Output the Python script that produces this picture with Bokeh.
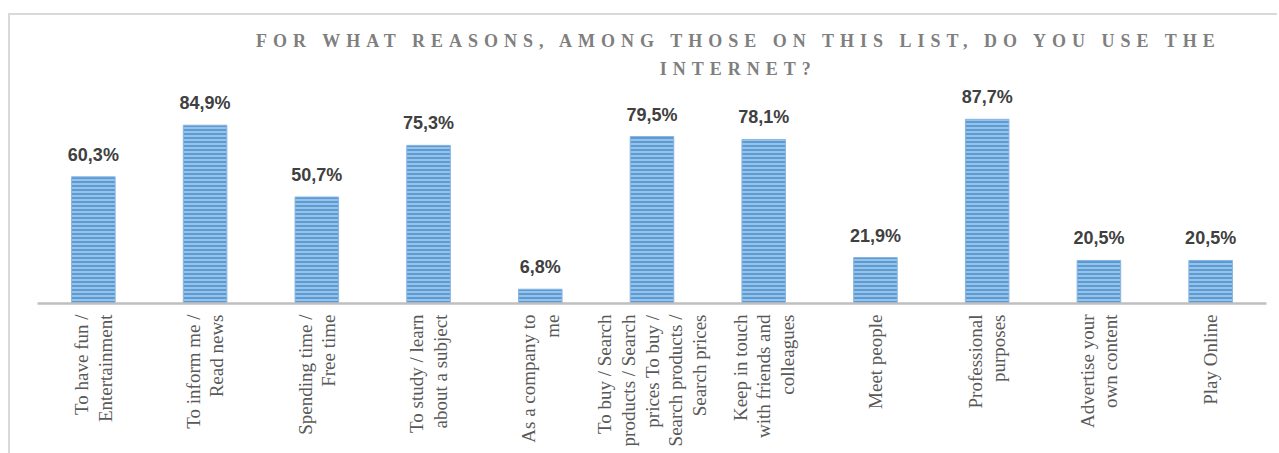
import math
from bokeh.plotting import figure
from bokeh.models import Div, ColumnDataSource, Range1d
from bokeh.layouts import column
from bokeh.embed import file_html
from bokeh.resources import INLINE
from bokeh.core.properties import value

# ---- data ----
categories = [
    "To have fun /\nEntertainment",
    "To inform me /\nRead news",
    "Spending time /\nFree time",
    "To study / learn\nabout a subject",
    "As a company to\nme",
    "To buy / Search\nproducts / Search\nprices To buy /\nSearch products /\nSearch prices",
    "Keep in touch\nwith friends and\ncolleagues",
    "Meet people",
    "Professional\npurposes",
    "Advertise your\nown content",
    "Play Online",
]
values = [60.3, 84.9, 50.7, 75.3, 6.8, 79.5, 78.1, 21.9, 87.7, 20.5, 20.5]
value_labels = ["60,3%", "84,9%", "50,7%", "75,3%", "6,8%", "79,5%",
                "78,1%", "21,9%", "87,7%", "20,5%", "20,5%"]
title_line1 = "FOR WHAT REASONS, AMONG THOSE ON THIS LIST, DO YOU USE THE"
title_line2 = "INTERNET?"

src = ColumnDataSource(dict(cat=categories, val=values, lbl=value_labels))

title_div = Div(
    text=(
        '<div style="position:relative; left:246px; top:12px; text-align:center; '
        "font-family:'Liberation Serif','Times New Roman',serif; font-weight:bold; "
        'font-size:18px; letter-spacing:6px; color:#7f7f7f; line-height:28px;">'
        + title_line1 + "<br>" + title_line2 + "</div>"
    ),
    width=1267, height=66, margin=(0, 0, 0, 0),
)

p = figure(
    x_range=categories, y_range=Range1d(0, 105.7),
    width=1267, height=372,
    min_border_left=27, min_border_right=11, min_border_top=0, min_border_bottom=150,
    output_backend="svg", toolbar_location=None, margin=(0, 0, 0, 0),
)

p.vbar(x="cat", top="val", width=0.39, source=src,
       fill_color="#5b9bd5", line_color="#8ab6e2", line_width=1,
       hatch_pattern="horizontal_line", hatch_color="#b4d2ef",
       hatch_scale=4, hatch_weight=1.4)

p.text(x="cat", y="val", text="lbl", source=src,
       text_align="center", text_baseline="alphabetic", y_offset=-22,
       text_font=value("Liberation Sans"), text_font_style="bold",
       text_font_size="18px", text_color="#404040")

p.yaxis.visible = False
p.xgrid.grid_line_color = None
p.ygrid.grid_line_color = None
p.outline_line_color = None
p.xaxis.axis_line_color = "#bfbfbf"
p.xaxis.axis_line_width = 2.5
p.xaxis.major_tick_line_color = None
p.xaxis.minor_tick_line_color = None
p.xaxis.major_label_orientation = math.pi / 2
p.xaxis.major_label_standoff = 5
p.xaxis.major_label_text_font = "Liberation Serif"
p.xaxis.major_label_text_font_size = "19px"
p.xaxis.major_label_text_line_height = 1.12
p.xaxis.major_label_text_color = "#595959"

layout = column(
    title_div, p,
    styles={"border-top": "2px solid #d9d9d9", "border-left": "2px solid #d9d9d9"},
    margin=(13, 0, 0, 8),
)

open("out.html", "w").write(file_html(layout, INLINE))
